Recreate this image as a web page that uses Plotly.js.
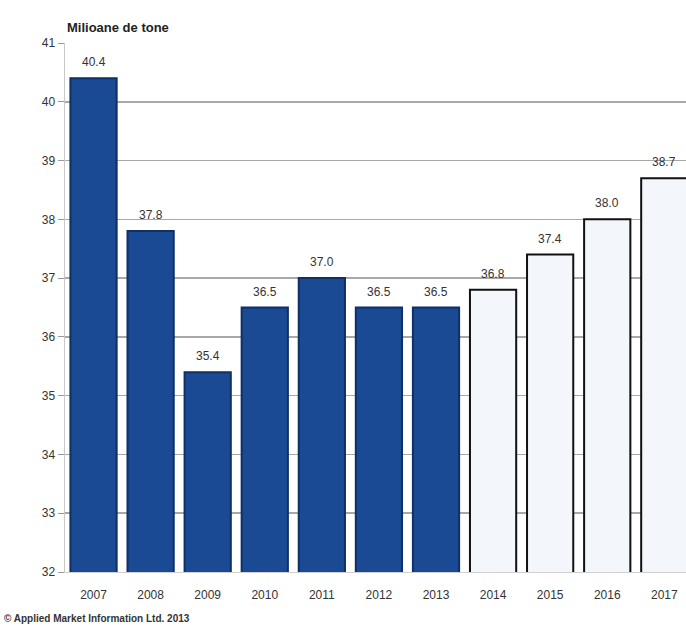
<!DOCTYPE html>
<html><head><meta charset="utf-8">
<script src="https://cdn.plot.ly/plotly-3.0.1.min.js"></script>
<style>html,body{margin:0;padding:0;background:#fff;overflow:hidden}</style>
</head><body>
<div id="chart" style="width:686px;height:626px"></div>
<script>
const years = ['2007','2008','2009','2010','2011','2012','2013','2014','2015','2016','2017'];
const values = [40.4, 37.8, 35.4, 36.5, 37.0, 36.5, 36.5, 36.8, 37.4, 38.0, 38.7];
const labels = ['40.4','37.8','35.4','36.5','37.0','36.5','36.5','36.8','37.4','38.0','38.7'];
const isForecast = [false,false,false,false,false,false,false,true,true,true,true];
const yTicks = [32,33,34,35,36,37,38,39,40,41];

const fills = isForecast.map(f => f ? '#f3f6fb' : '#1b4a94');
const lines = isForecast.map(f => f ? '#111111' : '#0f2f66');

const trace = {
  type: 'bar',
  x: years,
  y: values,
  marker: {color: fills, line: {color: lines, width: 2}},
  hoverinfo: 'none'
};

const valueLabels = years.map((yr, i) => ({
  x: i, y: values[i], xref: 'x', yref: 'y', text: labels[i],
  showarrow: false, yanchor: 'bottom', yshift: 7,
  font: {family: 'Liberation Sans, Arial, sans-serif', size: 12, color: '#333'}
}));

const layout = {
  width: 686, height: 626,
  margin: {l: 65, r: 0, t: 43, b: 54},
  paper_bgcolor: '#fff', plot_bgcolor: '#fff',
  showlegend: false,
  bargap: 0.19,
  font: {family: 'Liberation Sans, Arial, sans-serif', size: 12, color: '#333'},
  xaxis: {
    type: 'category',
    range: [-0.5, 10.38],
    showgrid: false,
    ticks: '',
    ticklabelstandoff: 12,
    showline: true,
    linecolor: '#d0d0d0',
    linewidth: 1,
    tickfont: {size: 12, color: '#333'},
    fixedrange: true
  },
  yaxis: {
    range: [32, 41],
    tickvals: yTicks,
    showgrid: true,
    gridcolor: '#a8a8a8',
    gridwidth: 1.5,
    zeroline: false,
    showline: true,
    linecolor: '#c8c8c8',
    linewidth: 1.5,
    ticks: 'outside',
    ticklen: 6,
    tickcolor: '#999',
    tickfont: {size: 12, color: '#333'},
    fixedrange: true
  },
  annotations: valueLabels.concat([
    {text: 'Milioane de tone', xref: 'paper', yref: 'paper', x: 0, y: 1, xanchor: 'left', yanchor: 'bottom', yshift: 6, showarrow: false,
     font: {size: 13, color: '#222', weight: 'bold', family: 'Liberation Sans, Arial, sans-serif'}},
    {text: '© Applied Market Information Ltd. 2013', xref: 'paper', yref: 'paper', x: 0, y: 0, xanchor: 'left', yanchor: 'top', xshift: -63, yshift: -39, showarrow: false,
     font: {size: 10, color: '#333', weight: 'bold', family: 'Liberation Sans, Arial, sans-serif'}}
  ])
};

Plotly.newPlot('chart', [trace], layout, {displayModeBar: false, staticPlot: true});
</script>
</body></html>
